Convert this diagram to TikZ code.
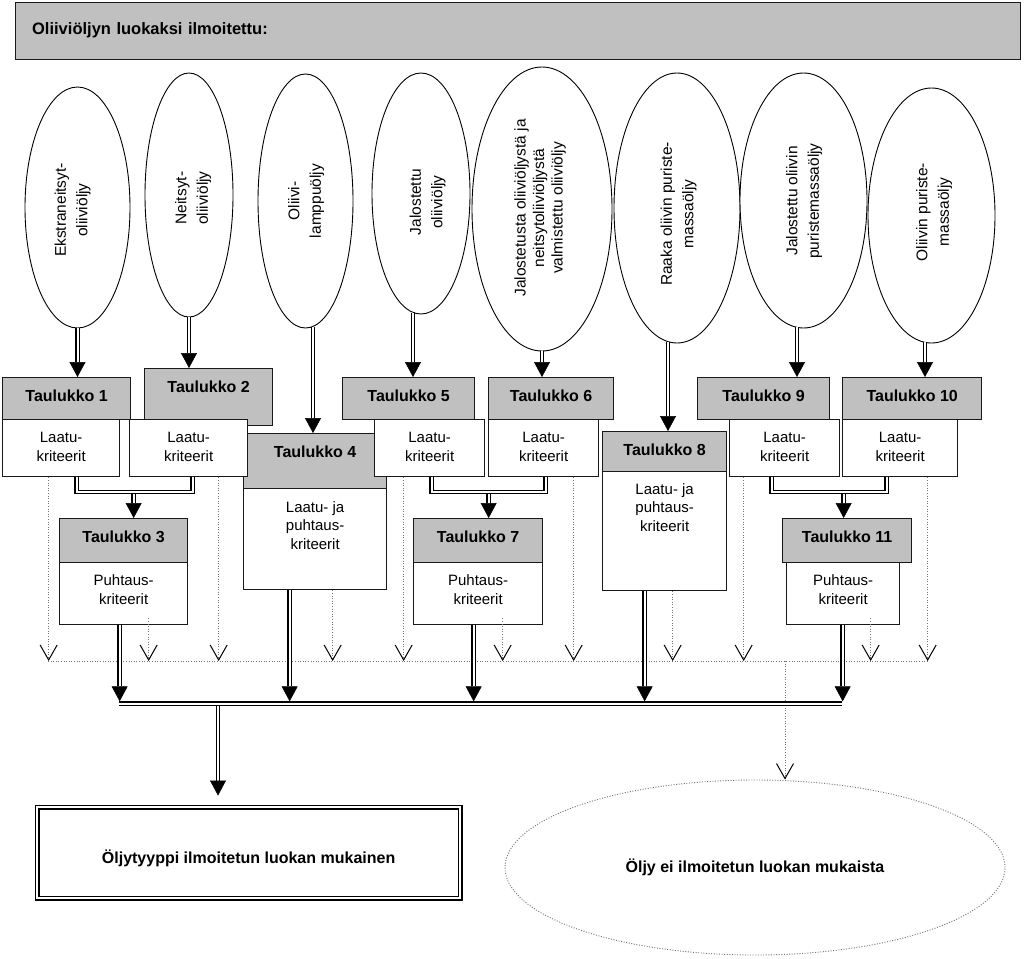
\documentclass[tikz,border=0pt]{standalone}
\usepackage{fontspec}
\setmainfont{Liberation Sans}
\usetikzlibrary{arrows.meta,shapes.geometric,calc}
\definecolor{hgray}{RGB}{192,192,192}
\begin{document}
\begin{tikzpicture}[x=1pt,y=-1pt,
  every node/.style={inner sep=0pt},
  bord/.style={draw=black!90, line width=1.3pt},
  hdr/.style={bord, fill=hgray, anchor=north west, font=\fontsize{16}{19}\selectfont\bfseries, text height=24pt},
  body/.style={bord, fill=white, anchor=north west},
  btxt/.style={anchor=north, align=center, font=\fontsize{15}{18.5}\selectfont},
  ell/.style={draw=black, line width=0.9pt, ellipse, fill=white},
  etxt/.style={rotate=90, align=center, font=\fontsize{15.5}{21.5}\selectfont},
  dbl/.style={draw=black, double=white, double distance=2pt, line width=1.2pt},
  darr/.style={dbl, -{Triangle[width=16pt,length=15pt,line width=0.5pt]}},
  dot/.style={draw=black!55, line width=0.9pt, dash pattern=on 1pt off 1.6pt},
  dotarr/.style={dot, -{Straight Barb[width=17pt,length=15pt,line width=1pt,color=black]}}
]
\useasboundingbox (0,0) rectangle (1024,958);

% title bar
\node[bord, fill=hgray, anchor=north west, text width=972pt, inner xsep=16.5pt, align=left,
      text height=32pt, text depth=25pt, font=\fontsize{16.5}{20}\selectfont\bfseries]
      (title) at (15,2) {Oliiviöljyn luokaksi ilmoitettu:};

% ellipses
\node[ell, minimum width=105pt, minimum height=241pt] (E1) at (77.5,207.5) {};
\node[ell, minimum width=88pt,  minimum height=244pt] (E2) at (189,195) {};
\node[ell, minimum width=95pt,  minimum height=254pt] (E3) at (305.5,201) {};
\node[ell, minimum width=98pt,  minimum height=241pt] (E4) at (421,193.5) {};
\node[ell, minimum width=140pt, minimum height=284pt] (E5) at (542,209) {};
\node[ell, minimum width=126pt, minimum height=270pt] (E6) at (677,208) {};
\node[ell, minimum width=127pt, minimum height=255pt] (E7) at (803.5,200.5) {};
\node[ell, minimum width=127pt, minimum height=255pt] (E8) at (931.5,215.5) {};

\node[etxt] (E1t) at (72.5,210) {Ekstraneitsyt-\\oliiviöljy};
\node[etxt] (E2t) at (193,198) {Neitsyt-\\oliiviöljy};
\node[etxt] (E3t) at (306,201) {Oliivi-\\lamppuöljy};
\node[etxt] (E4t) at (427.5,202) {Jalostettu\\oliiviöljy};
\node[etxt, font=\fontsize{15.5}{18.5}\selectfont] (E5t) at (540,208) {Jalostetusta oliiviöljystä ja\\neitsytoliiviöljystä\\valmistettu oliiviöljy};
\node[etxt] (E6t) at (678.5,214) {Raaka oliivin puriste-\\massaöljy};
\node[etxt] (E7t) at (804,201) {Jalostettu oliivin\\puristemassaöljy};
\node[etxt] (E8t) at (934,212) {Oliivin puriste-\\massaöljy};

% headers
\node[hdr, minimum width=128pt, minimum height=42pt, text depth=18pt] (T1h) at (2,377) {Taulukko 1};
\node[hdr, minimum width=128pt, minimum height=57pt, text depth=33pt] (T2h) at (144,368) {Taulukko 2};
\node[hdr, minimum width=128pt, minimum height=44pt, text depth=20pt] (T3h) at (59,518) {Taulukko 3};
\node[hdr, minimum width=143pt, minimum height=55pt, text depth=31pt] (T4h) at (243,433) {Taulukko 4};
\node[hdr, minimum width=132pt, minimum height=42pt, text depth=18pt] (T5h) at (342,377) {Taulukko 5};
\node[hdr, minimum width=125pt, minimum height=42pt, text depth=18pt] (T6h) at (488,377) {Taulukko 6};
\node[hdr, minimum width=129pt, minimum height=44pt, text depth=20pt] (T7h) at (413,518) {Taulukko 7};
\node[hdr, minimum width=124pt, minimum height=40pt, text depth=16pt] (T8h) at (602,431) {Taulukko 8};
\node[hdr, minimum width=132pt, minimum height=42pt, text depth=18pt] (T9h) at (697,377) {Taulukko 9};
\node[hdr, minimum width=139pt, minimum height=42pt, text depth=18pt] (T10h) at (842,377) {Taulukko 10};
\node[hdr, minimum width=129pt, minimum height=44pt, text depth=20pt] (T11h) at (782,518) {Taulukko 11};

% bodies
\node[body, minimum width=117pt, minimum height=57pt]  (T1b) at (2,419) {};
\node[body, minimum width=118pt, minimum height=57pt]  (T2b) at (129,419) {};
\node[body, minimum width=128pt, minimum height=62pt]  (T3b) at (59,562) {};
\node[body, minimum width=143pt, minimum height=101pt] (T4b) at (243,488) {};
\node[body, minimum width=110pt, minimum height=57pt]  (T5b) at (374,419) {};
\node[body, minimum width=110pt, minimum height=57pt]  (T6b) at (488,419) {};
\node[body, minimum width=129pt, minimum height=62pt]  (T7b) at (413,562) {};
\node[body, minimum width=124pt, minimum height=119pt] (T8b) at (602,471) {};
\node[body, minimum width=110pt, minimum height=57pt]  (T9b) at (729,419) {};
\node[body, minimum width=115pt, minimum height=57pt]  (T10b) at (842,419) {};
\node[body, minimum width=113pt, minimum height=62pt]  (T11b) at (786,562) {};

\node[btxt] (T1x) at ([yshift=-13pt]T1b.north) {Laatu-\\kriteerit};
\node[btxt] (T2x) at ([yshift=-13pt]T2b.north) {Laatu-\\kriteerit};
\node[btxt] (T3x) at ([yshift=-12.5pt]T3b.north) {Puhtaus-\\kriteerit};
\node[btxt] (T4x) at ([yshift=-13pt]T4b.north) {Laatu- ja\\puhtaus-\\kriteerit};
\node[btxt] (T5x) at ([yshift=-13pt]T5b.north) {Laatu-\\kriteerit};
\node[btxt] (T6x) at ([yshift=-13pt]T6b.north) {Laatu-\\kriteerit};
\node[btxt] (T7x) at ([yshift=-12.5pt]T7b.north) {Puhtaus-\\kriteerit};
\node[btxt] (T8x) at ([yshift=-12pt]T8b.north) {Laatu- ja\\puhtaus-\\kriteerit};
\node[btxt] (T9x) at ([yshift=-13pt]T9b.north) {Laatu-\\kriteerit};
\node[btxt] (T10x) at ([yshift=-13pt]T10b.north) {Laatu-\\kriteerit};
\node[btxt] (T11x) at ([yshift=-12.5pt]T11b.north) {Puhtaus-\\kriteerit};

% bottom outcomes
\node[draw=black, double=white, double distance=2.5pt, line width=1.2pt, anchor=north west,
      minimum width=423pt, text height=56.2pt, text depth=34.8pt,
      font=\fontsize{16}{19}\selectfont\bfseries] (OK) at (36.5,806.5) {Öljytyyppi ilmoitetun luokan mukainen};
\node[ellipse, draw=black!55, line width=0.9pt, dash pattern=on 1pt off 1.6pt,
      minimum width=500pt, minimum height=175pt,
      font=\fontsize{16}{19}\selectfont\bfseries] (NOT) at (755,867.5) {Öljy ei ilmoitetun luokan mukaista};

% dotted rejection lines
\coordinate (dl) at (48,661);
\coordinate (dr) at (927,661);
\draw[dot] (dl) -- (dr);
\path ([xshift=-12.5pt]T1b.south) coordinate (d1)
      ([xshift=25pt,yshift=7pt]T3b.south) coordinate (d2)
      ([xshift=30pt]T2b.south) coordinate (d3)
      ([xshift=17.5pt]T4b.south) coordinate (d4)
      ([xshift=-26pt]T5b.south) coordinate (d5)
      ([xshift=24.5pt,yshift=7pt]T7b.south) coordinate (d6)
      ([xshift=30pt]T6b.south) coordinate (d7)
      ([xshift=8pt]T8b.south) coordinate (d8)
      ([xshift=-41pt]T9b.south) coordinate (d9)
      ([xshift=27.5pt,yshift=7pt]T11b.south) coordinate (d10)
      ([xshift=27.5pt]T10b.south) coordinate (d11);
\foreach \d in {d1,d2,d3,d4,d5,d6,d7,d8,d9,d10,d11}
  \draw[dotarr] (\d) -- (\d |- dl);
\coordinate (nd) at (785,661);
\draw[dotarr] (nd) -- (nd |- NOT.north);

% ellipse -> table arrows
\path (E1.south) coordinate (u1)
      (E2.south) coordinate (u2)
      ([xshift=7.5pt,yshift=1.5pt]E3.south) coordinate (u3)
      ([xshift=-8pt,yshift=1.5pt]E4.south) coordinate (u4)
      (E5.south) coordinate (u5)
      ([xshift=-9pt,yshift=1.5pt]E6.south) coordinate (u6)
      ([xshift=-6.5pt,yshift=1pt]E7.south) coordinate (u7)
      ([xshift=-6.5pt,yshift=1pt]E8.south) coordinate (u8);
\draw[darr] (u1) -- (u1 |- T1h.north);
\draw[darr] (u2) -- (u2 |- T2h.north);
\draw[darr] (u3) -- (u3 |- T4h.north);
\draw[darr] (u4) -- (u4 |- T5h.north);
\draw[darr] (u5) -- (u5 |- T6h.north);
\draw[darr] (u6) -- (u6 |- T8h.north);
\draw[darr] (u7) -- (u7 |- T9h.north);
\draw[darr] (u8) -- (u8 |- T10h.north);

% brackets to purity tables
\path ([xshift=15.5pt]T1b.south) coordinate (a1)
      ([xshift=4pt]T2b.south) coordinate (a2)
      ([xshift=10pt]T3h.north) coordinate (a3);
\coordinate (ja) at (a3 |- 0,492);
\draw[dbl] (a1) |- (ja) -| (a2);
\draw[darr] ([yshift=-2.2pt]ja) -- (a3);

\path ([xshift=2pt]T5b.south) coordinate (b1)
      ([xshift=2pt]T6b.south) coordinate (b2)
      ([xshift=10.5pt]T7h.north) coordinate (b3);
\coordinate (jb) at (b3 |- 0,492);
\draw[dbl] (b1) |- (jb) -| (b2);
\draw[darr] ([yshift=-2.2pt]jb) -- (b3);

\path ([xshift=-13pt]T9b.south) coordinate (c1)
      ([xshift=-13.5pt]T10b.south) coordinate (c2)
      ([xshift=-3.5pt]T11h.north) coordinate (c3);
\coordinate (jc) at (c3 |- 0,492);
\draw[dbl] (c1) |- (jc) -| (c2);
\draw[darr] ([yshift=-2.2pt]jc) -- (c3);

% collecting bus
\coordinate (busL) at (119,703.5);
\coordinate (busR) at (842,703.5);
\coordinate (busT) at (0,701.3);
\draw[dbl] (busL) -- (busR);
\path ([xshift=-4pt]T3b.south) coordinate (v1)
      ([xshift=-25.5pt]T4b.south) coordinate (v2)
      ([xshift=-4.5pt]T7b.south) coordinate (v3)
      ([xshift=-20pt]T8b.south) coordinate (v4)
      ([xshift=-0.5pt]T11b.south) coordinate (v5);
\draw[darr] (v1) -- (v1 |- busT);
\draw[darr] (v2) -- (v2 |- busT);
\draw[darr] (v3) -- (v3 |- busT);
\draw[darr] (v4) -- (v4 |- busT);
\draw[darr] (v5) -- (v5 |- busT);

\coordinate (busD) at (218,705.7);
\path ([yshift=11pt]OK.north) coordinate (okT);
\draw[darr] (busD) -- (busD |- okT);
\end{tikzpicture}
\end{document}
